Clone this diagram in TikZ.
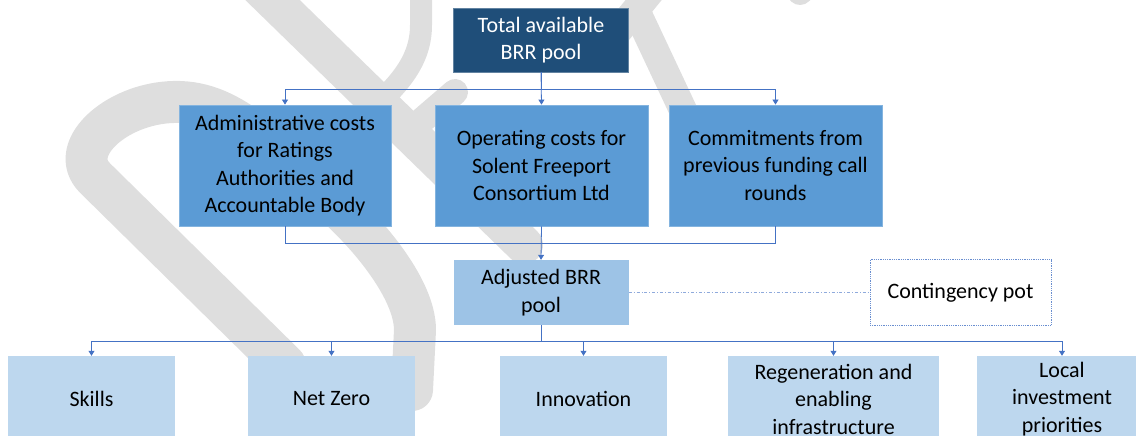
\documentclass[tikz,border=0pt]{standalone}
\usepackage{fontspec}
\setmainfont{Carlito}
\usetikzlibrary{arrows.meta}
\definecolor{navy}{HTML}{1F4E79}
\definecolor{midblue}{HTML}{5B9BD5}
\definecolor{adjblue}{HTML}{9DC3E6}
\definecolor{paleblue}{HTML}{BDD7EE}
\definecolor{lineblue}{HTML}{4472C4}
\definecolor{wmgray}{HTML}{DEDEDE}
\begin{document}
\begin{tikzpicture}[x=1pt,y=-1pt,
  wm/.style={draw=wmgray, line width=40pt, line cap=round, line join=round},
  box/.style={rectangle, inner sep=0pt, align=center, font=\fontsize{22}{27.5}\selectfont},
  topbox/.style={box, fill=navy, draw=navy!70!white, line width=0.8pt, text=white, minimum width=175pt, minimum height=64pt},
  midbox/.style={box, fill=midblue, draw=midblue!75!white, line width=0.8pt, text=black, minimum width=213pt, minimum height=121pt},
  adjbox/.style={box, fill=adjblue, text=black, minimum width=175pt, minimum height=65pt},
  lowbox/.style={box, fill=paleblue, text=black, minimum height=86pt},
  contbox/.style={box, fill=white, draw=lineblue!80, densely dotted, line width=0.8pt, text=black, minimum width=181pt, minimum height=66pt},
  conn/.style={draw=lineblue, line width=0.8pt, -{Triangle[width=6pt,length=5pt]}},
  link/.style={draw=lineblue, line width=0.8pt}]
\useasboundingbox (0,0) rectangle (1136,436);
\clip (0,0) rectangle (1136,436);
% watermark
\draw[wm, line width=38pt] (252,-20) -- (524,245);
\draw[wm, line width=42pt] (285,365) -- (95,178) .. controls (65,148) and (120,100) .. (180,102) .. controls (240,104) and (280,160) .. (330,200) .. controls (370,235) and (415,290) .. (415,330) -- (412,390);
\draw[wm, line width=22pt] (421,-20) -- (421,25) .. controls (421,60) and (400,85) .. (365,115);
\draw[wm, line width=28pt] (636,10) -- (690,125) -- (690,200);
\draw[wm, line width=28pt] (660,-20) -- (615,35);
\draw[wm, line width=26pt] (830,-40) -- (800,-8);
\draw[wm, line width=26pt] (455,92) -- (405,135) -- (470,195);
% nodes
\node[topbox] (top) at (541,40) {Total available\\BRR pool};
\node[midbox, minimum width=212pt] (adm) at (285,165.5) {Administrative costs\\for Ratings\\Authorities and\\Accountable Body};
\node[midbox] (op) at (541.5,165.5) {Operating costs for\\Solent Freeport\\Consortium Ltd};
\node[midbox] (com) at (775.5,165.5) {Commitments from\\previous funding call\\rounds};
\node[adjbox] (adj) at (541,292.5) {Adjusted BRR\\pool};
\node[contbox] (cont) at (960.5,292.5) {Contingency pot};
\node[lowbox, minimum width=167pt] (skills) at (91.5,399) {Skills};
\node[lowbox, minimum width=167pt] (net) at (331.5,399) {Net Zero};
\node[lowbox, minimum width=167pt] (inno) at (583.5,399) {Innovation};
\node[lowbox, minimum width=211pt] (regen) at (833.5,399) {Regeneration and\\enabling\\infrastructure};
\node[lowbox, minimum width=170pt] (local) at (1062,399) {Local\\investment\\priorities};
% connectors
\draw[conn] (top.south) -- ++(0,17) -| (adm.north);
\draw[conn] (top.south) -- (op.north);
\draw[conn] (top.south) -- ++(0,17) -| (com.north);
\draw[link] (adm.south) -- ++(0,17) -| (com.south);
\draw[conn] (op.south) -- (adj.north);
\draw[lineblue!60, line width=0.8pt, dash dot] (adj.east) -- (cont.west);
\draw[conn] (adj.south) -- ++(0,16) -| (skills.north);
\draw[conn] (adj.south) -- ++(0,16) -| (net.north);
\draw[conn] (adj.south) -- ++(0,16) -| (inno.north);
\draw[conn] (adj.south) -- ++(0,16) -| (regen.north);
\draw[conn] (adj.south) -- ++(0,16) -| (local.north);
\end{tikzpicture}
\end{document}
